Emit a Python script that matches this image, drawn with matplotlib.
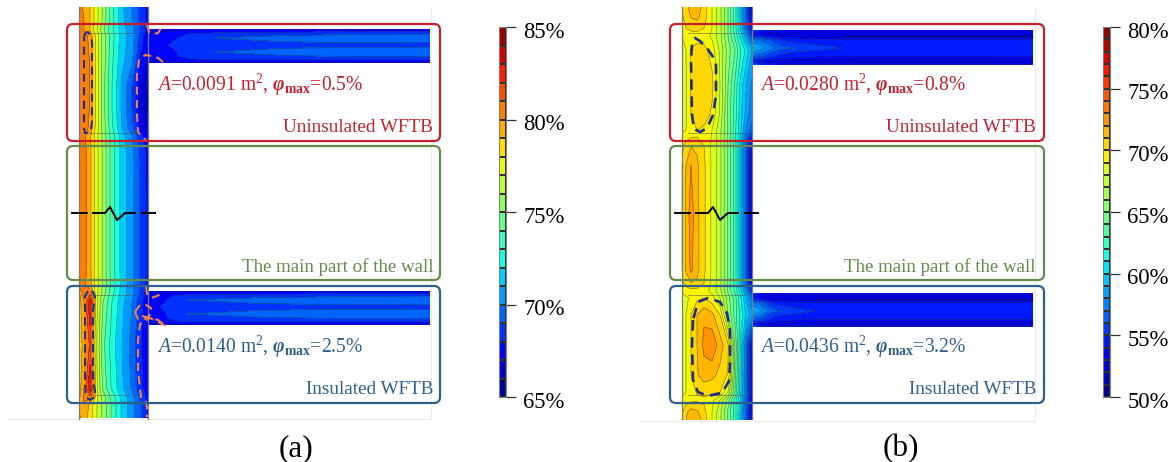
import matplotlib
matplotlib.use('Agg')
import matplotlib.pyplot as plt
from matplotlib.patches import FancyBboxPatch
from matplotlib.transforms import ScaledTranslation
import numpy as np

plt.rcParams['font.family'] = ['Liberation Serif', 'DejaVu Serif']
plt.rcParams['mathtext.fontset'] = 'custom'
plt.rcParams['mathtext.rm'] = 'Liberation Serif'
plt.rcParams['mathtext.it'] = 'Liberation Serif:italic'
plt.rcParams['mathtext.bf'] = 'Liberation Serif:bold'
plt.rcParams['mathtext.bfit'] = 'Liberation Serif:italic:bold'

RED = '#c5202c'
GREEN = '#648a4e'
BLUE = '#2f5f8c'

# panel (a): relative humidity, wall section
a_x = [79, 84, 90, 96, 103, 112, 122, 132, 140, 148]
a_y = [7, 20, 30, 36, 60, 85, 110, 128, 136, 150, 213, 270, 285, 294, 302, 345, 388, 396, 405, 418]
a_wall = [
    [80.2, 79.9, 79.0, 77.5, 75.8, 73.3, 71.2, 70.0, 68.8, 67.7],
    [80.3, 80.0, 79.0, 77.5, 75.8, 73.3, 71.3, 70.0, 68.8, 67.7],
    [80.3, 80.0, 79.0, 77.3, 75.3, 73.2, 71.5, 70.3, 69.0, 67.6],
    [80.5, 80.6, 79.6, 77.8, 75.6, 73.4, 71.5, 70.5, 68.6, 67.2],
    [80.6, 80.8, 79.9, 77.9, 75.6, 73.2, 71.3, 70.2, 68.0, 66.8],
    [80.6, 80.8, 79.9, 77.9, 75.5, 73.0, 70.8, 69.0, 67.0, 65.8],
    [80.6, 80.8, 79.9, 77.9, 75.5, 73.0, 70.8, 69.0, 67.0, 65.8],
    [80.5, 80.6, 79.7, 77.7, 75.6, 73.2, 71.0, 69.3, 67.5, 66.2],
    [80.4, 80.2, 79.2, 77.5, 75.7, 73.5, 71.5, 70.0, 68.3, 67.2],
    [80.6, 80.4, 79.3, 77.5, 75.8, 73.5, 71.6, 70.2, 68.8, 67.6],
    [80.7, 80.5, 79.3, 77.5, 75.8, 73.5, 71.6, 70.3, 69.0, 67.7],
    [80.7, 80.5, 79.3, 77.5, 75.8, 73.5, 71.6, 70.3, 69.0, 67.7],
    [80.2, 80.2, 79.3, 77.6, 75.8, 73.6, 71.7, 70.3, 69.0, 67.7],
    [78.6, 80.5, 80.8, 77.5, 75.5, 73.3, 71.6, 70.3, 68.8, 67.4],
    [78.4, 80.0, 83.0, 77.5, 75.0, 73.0, 71.3, 70.0, 68.4, 67.2],
    [78.2, 79.5, 81.2, 77.3, 74.3, 72.5, 71.0, 69.6, 68.2, 67.2],
    [78.4, 80.0, 83.0, 77.5, 74.8, 72.8, 71.2, 69.8, 68.3, 67.3],
    [78.6, 80.3, 80.6, 77.6, 75.5, 73.5, 71.6, 70.3, 68.8, 67.6],
    [79.8, 79.8, 78.8, 77.2, 75.7, 73.8, 71.8, 70.4, 69.2, 67.8],
    [80.2, 79.5, 78.5, 77.2, 75.7, 73.8, 71.8, 70.4, 69.2, 67.7],
]
# slab of panel (a)
a_slab_x = [148, 162, 175, 190, 215, 280, 350, 430]
a_slab_x_low = [148, 156, 165, 175, 187, 260, 350, 430]
a_slab_y = [29, 31, 34, 38, 42, 45, 48, 52, 56, 60, 63]
a_slab_y_low = [291, 293, 296, 300, 304, 307, 310, 314, 318, 322, 325]
a_slab = [
    [66.6, 66.7, 66.8, 66.9, 66.9, 66.9, 66.9, 66.9],
    [66.8, 66.9, 66.95, 67.1, 67.3, 67.5, 67.7, 67.8],
    [67.0, 67.3, 67.6, 68.1, 68.4, 68.7, 68.9, 69.0],
    [67.2, 67.5, 67.9, 68.5, 69.0, 69.4, 69.6, 69.7],
    [67.2, 67.6, 68.1, 68.6, 68.8, 68.95, 69.1, 69.2],
    [67.2, 67.7, 68.3, 68.7, 68.8, 68.7, 68.6, 68.5],
    [67.2, 67.6, 68.1, 68.6, 68.8, 68.95, 69.1, 69.2],
    [67.2, 67.5, 67.9, 68.5, 69.0, 69.4, 69.6, 69.7],
    [67.1, 67.5, 67.9, 68.4, 68.6, 68.9, 69.1, 69.2],
    [67.0, 67.1, 67.3, 67.8, 68.0, 68.0, 68.0, 68.0],
    [66.6, 66.7, 66.8, 66.9, 66.9, 66.9, 66.9, 66.9],
]

# panel (b)
b_x = [682, 686, 691, 697, 704, 712, 720, 728, 735, 741, 747, 752]
b_y = [7, 18, 28, 36, 50, 85, 115, 130, 137, 146, 165, 213, 270, 283, 291, 298, 315, 345, 375, 392, 400, 412, 420]
b_wall = [
    [70.0, 70.6, 71.5, 71.7, 70.6, 69.0, 67.3, 65.0, 62.5, 59.5, 56.0, 53.0],
    [69.8, 70.4, 71.0, 71.2, 70.4, 69.0, 67.3, 65.0, 62.5, 59.5, 56.0, 53.0],
    [69.5, 70.0, 70.3, 70.3, 70.0, 69.0, 67.3, 65.0, 62.5, 59.6, 56.4, 53.5],
    [69.0, 69.3, 69.5, 69.6, 69.5, 68.8, 67.3, 65.0, 62.8, 60.5, 58.0, 55.5],
    [68.7, 69.0, 70.1, 70.4, 70.3, 69.6, 67.8, 65.5, 64.0, 62.0, 60.5, 59.0],
    [68.6, 68.9, 70.1, 70.6, 70.7, 70.3, 68.0, 65.0, 62.8, 60.5, 58.8, 57.8],
    [68.6, 68.9, 70.0, 70.5, 70.5, 69.8, 67.8, 64.8, 62.5, 60.2, 58.4, 57.3],
    [68.8, 69.0, 69.6, 70.0, 69.8, 69.0, 67.3, 64.8, 62.3, 60.0, 57.6, 56.5],
    [69.3, 69.6, 69.9, 70.0, 69.8, 68.9, 67.3, 64.8, 62.3, 59.7, 56.5, 54.0],
    [69.8, 70.4, 71.0, 70.8, 70.0, 68.8, 67.3, 64.8, 62.5, 59.5, 56.0, 53.0],
    [70.0, 71.0, 72.0, 71.2, 70.2, 68.8, 67.3, 64.8, 62.5, 59.5, 56.0, 52.5],
    [70.0, 71.3, 72.5, 71.3, 70.2, 68.8, 67.3, 64.8, 62.5, 59.5, 56.0, 52.5],
    [70.0, 71.1, 72.2, 71.3, 70.2, 68.8, 67.3, 64.8, 62.5, 59.5, 56.0, 52.5],
    [69.8, 70.4, 71.0, 70.8, 70.0, 68.8, 67.3, 64.8, 62.5, 59.5, 56.0, 53.0],
    [69.3, 69.5, 69.6, 69.6, 69.4, 68.7, 67.3, 64.8, 62.8, 60.2, 57.5, 55.0],
    [68.5, 68.8, 69.2, 69.8, 70.0, 69.4, 68.0, 65.5, 63.5, 61.0, 58.8, 57.0],
    [68.5, 69.0, 70.0, 71.0, 71.8, 71.3, 70.0, 66.0, 63.5, 61.5, 59.5, 58.5],
    [68.5, 69.0, 70.0, 71.0, 72.3, 72.8, 71.5, 70.2, 65.0, 60.5, 56.5, 53.0],
    [68.5, 69.0, 70.0, 70.9, 71.5, 71.3, 70.7, 69.9, 64.5, 60.2, 56.5, 53.0],
    [68.7, 69.0, 69.5, 70.1, 70.3, 70.2, 70.0, 68.0, 64.0, 60.0, 56.5, 53.0],
    [69.2, 69.5, 69.7, 69.8, 69.8, 69.3, 68.0, 65.5, 62.5, 59.7, 56.2, 53.0],
    [69.8, 70.8, 71.5, 71.2, 70.3, 69.0, 67.3, 64.8, 62.5, 59.5, 56.0, 53.0],
    [70.0, 71.0, 72.0, 71.8, 70.5, 69.0, 67.3, 64.8, 62.5, 59.5, 56.0, 53.0],
]
b_slab_x = [752, 765, 780, 800, 820, 843, 880, 950, 1033]
b_slab_x_low = [752, 762, 772, 785, 800, 815, 860, 950, 1033]
b_slab_y = [30, 33, 36, 40, 44, 48, 52, 56, 59, 61, 63, 65]
b_slab_y_low = [293, 296, 299, 303, 307, 311, 315, 319, 322, 324, 326, 327]
b_slab = [
    [55.5, 54.5, 54.0, 53.8, 53.6, 53.5, 53.5, 53.5, 53.5],
    [54.0, 53.0, 52.6, 52.5, 52.5, 52.5, 52.5, 52.5, 52.5],
    [55.0, 54.0, 53.0, 52.5, 52.2, 52.0, 52.0, 52.0, 52.0],
    [57.3, 56.5, 55.0, 54.5, 54.3, 54.2, 54.2, 54.2, 54.2],
    [58.5, 57.3, 55.7, 55.1, 54.8, 54.6, 54.5, 54.5, 54.5],
    [59.2, 58.0, 56.5, 55.8, 55.4, 55.0, 54.8, 54.7, 54.7],
    [58.3, 57.0, 55.3, 54.9, 54.7, 54.6, 54.5, 54.5, 54.5],
    [57.0, 55.8, 54.8, 54.5, 54.3, 54.2, 54.2, 54.2, 54.2],
    [55.5, 54.5, 53.8, 53.4, 53.2, 53.0, 53.0, 53.0, 53.0],
    [54.5, 53.2, 52.6, 52.4, 52.4, 52.4, 52.4, 52.4, 52.4],
    [55.5, 54.0, 53.4, 53.3, 53.3, 53.3, 53.3, 53.3, 53.3],
    [56.5, 55.0, 54.3, 54.2, 54.2, 54.2, 54.2, 54.2, 54.2],
]

a_levels = list(range(65, 86))
b_levels = list(range(50, 81))
a_ticks = [65, 70, 75, 80, 85]
b_ticks = [50, 55, 60, 65, 70, 75, 80]

# dashed outlines of the risk zones
a_up_loop_x = [85, 84, 84, 85, 88, 91, 92, 92, 91, 88, 85]
a_up_loop_y = [33, 38, 128, 133, 133, 129, 122, 42, 36, 32, 33]
a_up_top_x = [147, 149, 153, 158, 161]
a_up_top_y = [25, 32, 34, 33, 28]
a_up_low_x = [163, 158, 152, 145, 139, 137, 137, 138, 142, 147]
a_up_low_y = [62, 58, 56, 55, 60, 75, 115, 132, 137, 141]
a_low_loop_x = [88, 85, 85, 85, 85, 86, 90, 95, 95, 93, 93, 95, 93, 89, 88]
a_low_loop_y = [291, 296, 308, 345, 385, 397, 400, 397, 391, 380, 310, 297, 292, 290, 291]
a_low_top_x = [146, 147, 151, 157, 164]
a_low_top_y = [287, 294, 298, 296, 292]
a_low_circ_x = [135, 139, 146, 151, 152, 149, 144, 138, 135]
a_low_circ_y = [312, 306, 305, 308, 312, 316, 319, 319, 312]
a_low_tail_x = [142, 150, 158, 166, 150, 140, 138, 138, 141, 146, 147, 147]
a_low_tail_y = [316, 318, 320, 326, 318, 324, 340, 370, 397, 402, 408, 417]
b_up_loop_x = [692, 691, 692, 694, 700, 707, 713, 716, 716, 713, 707, 700, 695, 692]
b_up_loop_y = [45, 60, 115, 129, 132, 128, 115, 95, 65, 57, 48, 41, 38, 45]
b_low_loop_x = [693, 692, 693, 698, 708, 722, 729, 730, 730, 727, 720, 708, 698, 693]
b_low_loop_y = [320, 345, 380, 392, 396, 393, 381, 362, 330, 313, 302, 298, 302, 320]

break_x = [72, 87, None, 93, 105, 110, 117, 125, 135, None, 142, 155]
break_y = [213, 213, None, 213, 213, 207, 220, 213, 213, None, 213, 213]


def draw_field(ax, xs, ys, vals, levels):
    cf = ax.contourf(xs, ys, vals, levels=levels, cmap='jet', zorder=2, extend='both')
    ax.contour(xs, ys, vals, levels=levels, colors='#202020', linewidths=0.4, alpha=0.6, zorder=3)
    return cf


def round_box(ax, x0, y0, x1, y1, col):
    ax.add_patch(FancyBboxPatch((x0, y0), x1 - x0, y1 - y0, boxstyle='round,pad=0,rounding_size=6',
                                fc='none', ec=col, lw=1.6, zorder=6))


fig = plt.figure(figsize=(11.76, 4.62), dpi=100)
ax = fig.add_axes([0, 0, 1, 1])
ax.set_xlim(0, 1176)
ax.set_ylim(462, 0)
ax.axis('off')

# faint frame of the original plots
ax.plot([8, 431, 431], [419, 419, 7], color='#ececec', lw=0.8, zorder=1)
ax.plot([640, 1035, 1035], [421, 421, 7], color='#ececec', lw=0.8, zorder=1)

draw_field(ax, a_x, a_y, a_wall, a_levels)
draw_field(ax, a_slab_x, a_slab_y, a_slab, a_levels)
draw_field(ax, a_slab_x_low, a_slab_y_low, a_slab, a_levels)
draw_field(ax, b_x, b_y, b_wall, b_levels)
draw_field(ax, b_slab_x, b_slab_y, b_slab, b_levels)
draw_field(ax, b_slab_x_low, b_slab_y_low, b_slab, b_levels)

# wall edges and the thin bridge outline
for x in [79, 148, 682, 752]:
    ax.plot([x, x], [7, 419], color='#707c90', lw=0.9, zorder=4)
for x0, x1 in [(84, 135), (688, 745)]:
    for y in [33, 133, 295, 395]:
        ax.plot([x0, x1], [y, y], color='#505050', lw=0.5, alpha=0.7, zorder=4)

# risk zones
dash = (0, (4, 2.5))
for xs, ys in [(a_up_loop_x, a_up_loop_y), (a_low_loop_x, a_low_loop_y)]:
    ax.plot(xs, ys, color='#ee8a2a', lw=1.5, zorder=5)
    ax.plot(xs, ys, color='#25308f', lw=1.5, ls=dash, zorder=5)
for xs, ys in [(a_up_top_x, a_up_top_y), (a_up_low_x, a_up_low_y), (a_low_top_x, a_low_top_y),
               (a_low_circ_x, a_low_circ_y), (a_low_tail_x, a_low_tail_y)]:
    ax.plot(xs, ys, color='#ee8244', lw=1.5, ls=dash, zorder=5)
for xs, ys in [(b_up_loop_x, b_up_loop_y), (b_low_loop_x, b_low_loop_y)]:
    ax.plot(xs, ys, color='#1f2b8f', lw=1.9, ls=dash, zorder=5)

# boxes and labels for both panels
for off, dx, tag, vals_up, vals_low in [
    (0, 0, '(a)', ('0.0091', '0.5'), ('0.0140', '2.5')),
    (604, 603, '(b)', ('0.0280', '0.8'), ('0.0436', '3.2')),
]:
    round_box(ax, 67 + off - (1 if off else 0), 24, 439 + off + 1, 141, RED)
    round_box(ax, 67 + off - (1 if off else 0), 146, 439 + off + 1, 280, GREEN)
    round_box(ax, 67 + off - (1 if off else 0), 286, 439 + off + 1, 403, BLUE)
    ax.text(433 + dx, 128, 'Uninsulated WFTB', color=RED, fontsize=13.8, ha='right', va='center', zorder=7)
    ax.text(433 + dx, 267, 'The main part of the wall', color=GREEN, fontsize=13.6, ha='right', va='center', zorder=7)
    ax.text(433 + dx, 390, 'Insulated WFTB', color=BLUE, fontsize=13.8, ha='right', va='center', zorder=7)
    ax.text(157 + dx, 85, r'$\mathit{A}$=%s m$^{2}$, $\mathbfit{\varphi}_{\mathbf{max}}$=%s%%' % vals_up,
            color=RED, fontsize=14.1, ha='left', va='center', zorder=7)
    ax.text(157 + dx, 347, r'$\mathit{A}$=%s m$^{2}$, $\mathbfit{\varphi}_{\mathbf{max}}$=%s%%' % vals_low,
            color=BLUE, fontsize=14.1, ha='left', va='center', zorder=7)
    ax.text(296 + dx + (2 if off else 0), 449, tag, color='black', fontsize=22.5, ha='center', va='center', zorder=7)
    bx = [v + dx if v is not None else np.nan for v in break_x]
    by = [v if v is not None else np.nan for v in break_y]
    ax.plot(bx, by, color='black', lw=1.4, zorder=6)

# colour bars, each on its own discrete scale
for left, levels, ticks in [(499, a_levels, a_ticks), (1103, b_levels, b_ticks)]:
    cax = fig.add_axes([left / 1176, 1 - 397 / 462, 7 / 1176, 370 / 462])
    rows = np.array(levels[:-1], dtype=float) + 0.5
    cax.pcolormesh([0, 1], levels, rows.reshape(-1, 1), cmap='jet', vmin=levels[0], vmax=levels[-1],
                   edgecolors='#303030', linewidth=0.3)
    cax.set_xticks([])
    cax.yaxis.tick_right()
    cax.set_yticks(ticks)
    cax.set_yticklabels(['%d%%' % t for t in ticks], fontsize=16.3)
    cax.tick_params(axis='y', length=7.5, width=0.9, pad=5, color='#303030')
    shift = ScaledTranslation(0, -2 / 72, fig.dpi_scale_trans)
    for lab in cax.get_yticklabels():
        lab.set_transform(lab.get_transform() + shift)
    for s in cax.spines.values():
        s.set_color('#808080')
        s.set_linewidth(0.8)

fig.savefig('out.png', dpi=100)
